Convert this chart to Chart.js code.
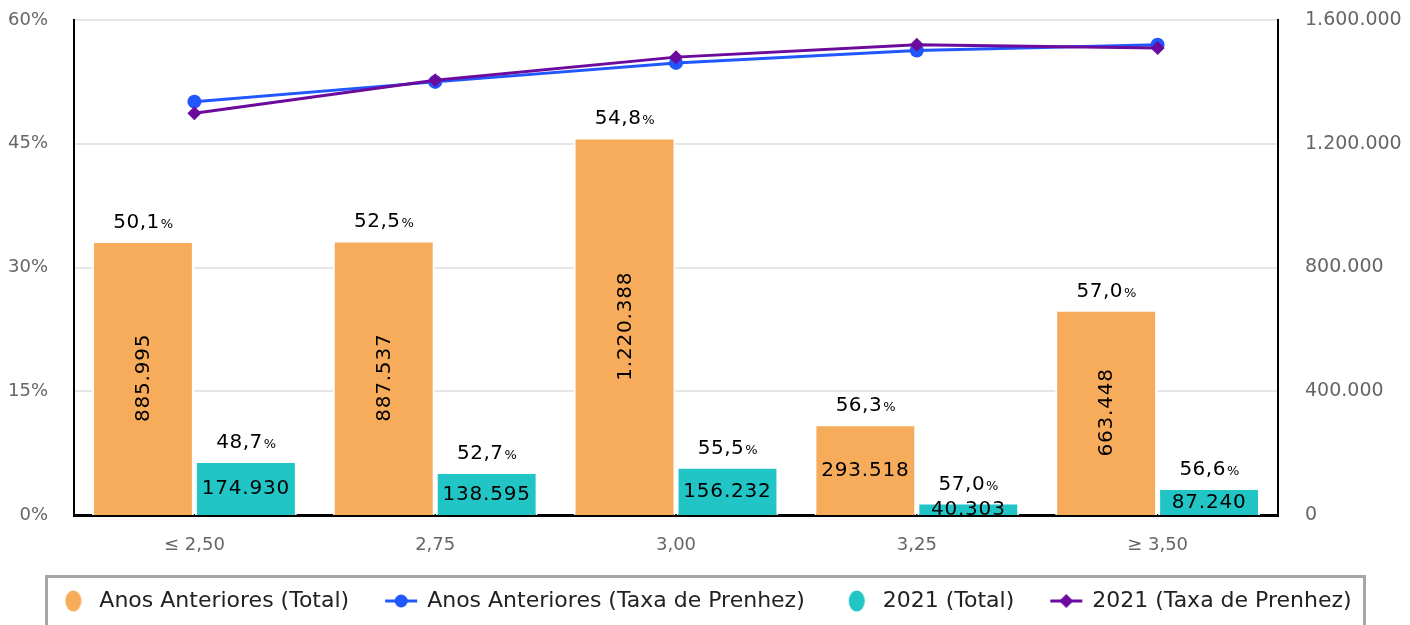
<!DOCTYPE html>
<html>
<head>
<meta charset="utf-8">
<script src="https://cdn.jsdelivr.net/npm/chart.js@4"></script>
<style>
  html, body { margin: 0; padding: 0; background: #fff; }
  #wrap { width: 1410px; height: 625px; position: relative; }
</style>
</head>
<body>
<div id="wrap"><canvas id="c"></canvas></div>
<script>
// ---- data ----
const categories = ['≤ 2,50', '2,75', '3,00', '3,25', '≥ 3,50'];
const anosAnterioresTotal = [885995, 887537, 1220388, 293518, 663448];
const anosAnterioresTaxa = [50.1, 52.5, 54.8, 56.3, 57.0];
const total2021 = [174930, 138595, 156232, 40303, 87240];
const taxa2021 = [48.7, 52.7, 55.5, 57.0, 56.6];
const seriesNames = ['Anos Anteriores (Total)', 'Anos Anteriores (Taxa de Prenhez)', '2021 (Total)', '2021 (Taxa de Prenhez)'];
const leftTickStep = 15, leftMax = 60;
const rightTickStep = 400000, rightMax = 1600000;

const C_ORANGE = '#F7AC5B', C_TEAL = '#22C5C6', C_BLUE = '#2157FF', C_PURPLE = '#6B0A9C';
const FONT = 'DejaVu Sans';

function fmtThousands(v) {
  return String(Math.round(v)).replace(/\B(?=(\d{3})+(?!\d))/g, '.');
}
function fmtPct(v) { return v.toFixed(1).replace('.', ','); }

// legend marker images
function ellipseMarker(color) {
  const c = document.createElement('canvas'); c.width = 18; c.height = 22;
  const x = c.getContext('2d'); x.fillStyle = color;
  x.beginPath(); x.ellipse(9, 11, 8, 10.5, 0, 0, Math.PI * 2); x.fill();
  return c;
}
function lineMarker(color, style) {
  const c = document.createElement('canvas'); c.width = 34; c.height = 16;
  const x = c.getContext('2d'); x.strokeStyle = color; x.fillStyle = color; x.lineWidth = 3;
  x.beginPath(); x.moveTo(1, 8); x.lineTo(33, 8); x.stroke();
  x.beginPath();
  if (style === 'circle') { x.arc(17, 8, 6.5, 0, Math.PI * 2); }
  else { x.moveTo(17, 1); x.lineTo(24, 8); x.lineTo(17, 15); x.lineTo(10, 8); x.closePath(); }
  x.fill();
  return c;
}
const legendMarkers = [ellipseMarker(C_ORANGE), lineMarker(C_BLUE, 'circle'), ellipseMarker(C_TEAL), lineMarker(C_PURPLE, 'diamond')];

const barLabelPlugin = {
  id: 'barLabels',
  afterDatasetsDraw(chart) {
    const ctx = chart.ctx;
    const pairs = [[0, 1], [2, 3]];
    ctx.save();
    ctx.fillStyle = '#000';
    pairs.forEach(([barIdx, lineIdx]) => {
      const meta = chart.getDatasetMeta(barIdx);
      const pctData = chart.data.datasets[lineIdx].data;
      const valData = chart.data.datasets[barIdx].data;
      meta.data.forEach((el, i) => {
        const p = el.getProps(['x', 'y', 'base'], true);
        // percentage label above bar
        ctx.letterSpacing = '0.5px';
        const main = fmtPct(pctData[i]);
        ctx.font = '20px "' + FONT + '"';
        const w1 = ctx.measureText(main).width;
        ctx.font = '13px "' + FONT + '"';
        const w2 = ctx.measureText('%').width;
        const sx = p.x - (w1 + w2) / 2;
        const by = p.y - 13;
        ctx.textAlign = 'left'; ctx.textBaseline = 'alphabetic';
        ctx.font = '20px "' + FONT + '"';
        ctx.fillText(main, sx, by);
        ctx.font = '13px "' + FONT + '"';
        ctx.fillText('%', sx + w1 + 1, by);
        // value inside bar
        ctx.font = '20px "' + FONT + '"';
        ctx.letterSpacing = '0.8px';
        const txt = fmtThousands(valData[i]);
        const cy = (p.y + p.base) / 2;
        ctx.textAlign = 'center'; ctx.textBaseline = 'middle';
        if (p.base - p.y > 150) {
          ctx.save(); ctx.translate(p.x, cy); ctx.rotate(-Math.PI / 2);
          ctx.fillText(txt, 0, 1); ctx.restore();
        } else {
          ctx.fillText(txt, p.x, cy + 1);
        }
      });
    });
    ctx.restore();
  }
};

const legendBoxPlugin = {
  id: 'legendBox',
  afterDraw(chart) {
    const ctx = chart.ctx;
    ctx.save();
    ctx.strokeStyle = '#A6A6A6'; ctx.lineWidth = 3;
    ctx.strokeRect(46.5, 576.5, 1318, 70);
    ctx.restore();
  }
};

Chart.defaults.font.family = FONT;

function fixVertical(width) {
  return function (s) { s.width = width; s.paddingTop = 0; s.paddingBottom = 0; };
}

new Chart(document.getElementById('c'), {
  type: 'bar',
  data: {
    labels: categories,
    datasets: [
      { type: 'bar', label: seriesNames[0], data: anosAnterioresTotal, yAxisID: 'y1', backgroundColor: C_ORANGE,
        borderColor: '#fff', borderWidth: 2, borderSkipped: 'start', order: 2, categoryPercentage: 0.855, barPercentage: 0.99 },
      { type: 'line', label: seriesNames[1], data: anosAnterioresTaxa, yAxisID: 'y', borderColor: C_BLUE, backgroundColor: C_BLUE,
        borderWidth: 3, pointStyle: 'circle', pointRadius: 7, pointBorderWidth: 0, tension: 0, order: 1 },
      { type: 'bar', label: seriesNames[2], data: total2021, yAxisID: 'y1', backgroundColor: C_TEAL,
        borderColor: '#fff', borderWidth: 2, borderSkipped: 'start', order: 2, categoryPercentage: 0.855, barPercentage: 0.99 },
      { type: 'line', label: seriesNames[3], data: taxa2021, yAxisID: 'y', borderColor: C_PURPLE, backgroundColor: C_PURPLE,
        borderWidth: 3, pointStyle: 'rectRot', pointRadius: 7, pointBorderWidth: 0, tension: 0, order: 0 }
    ]
  },
  options: {
    responsive: true,
    maintainAspectRatio: false,
    animation: false,
    layout: { padding: { top: 20, left: 0, right: 0, bottom: 3 } },
    plugins: {
      tooltip: { enabled: false },
      legend: {
        position: 'bottom',
        labels: {
          usePointStyle: true,
          pointStyleWidth: 30,
          boxHeight: 22,
          padding: 37,
          color: '#222',
          font: { size: 22, family: FONT },
          generateLabels(chart) {
            return chart.data.datasets.map((ds, i) => ({
              text: ds.label, datasetIndex: i, hidden: !chart.isDatasetVisible(i),
              fillStyle: ds.backgroundColor, strokeStyle: ds.backgroundColor, lineWidth: 0,
              pointStyle: legendMarkers[i], fontColor: '#222'
            }));
          }
        }
      }
    },
    scales: {
      x: {
        offset: true,
        grid: { display: false, drawTicks: false },
        border: { display: true, color: '#000', width: 3 },
        ticks: { color: '#666', font: { size: 18 }, padding: 20 },
        afterFit(s) { s.height = 38; }
      },
      y: {
        position: 'left', min: 0, max: leftMax,
        grid: { color: '#E6E6E6', lineWidth: 2, drawTicks: false },
        border: { display: true, color: '#000', width: 2 },
        ticks: { stepSize: leftTickStep, color: '#666', font: { size: 18 }, padding: 26, callback: v => v + '%' },
        afterFit: fixVertical(74)
      },
      y1: {
        position: 'right', min: 0, max: rightMax,
        grid: { display: false, drawTicks: false },
        border: { display: true, color: '#000', width: 2 },
        ticks: { stepSize: rightTickStep, color: '#666', font: { size: 19 }, padding: 27, callback: v => fmtThousands(v) },
        afterFit: fixVertical(132)
      }
    }
  },
  plugins: [barLabelPlugin, legendBoxPlugin]
});
</script>
</body>
</html>
